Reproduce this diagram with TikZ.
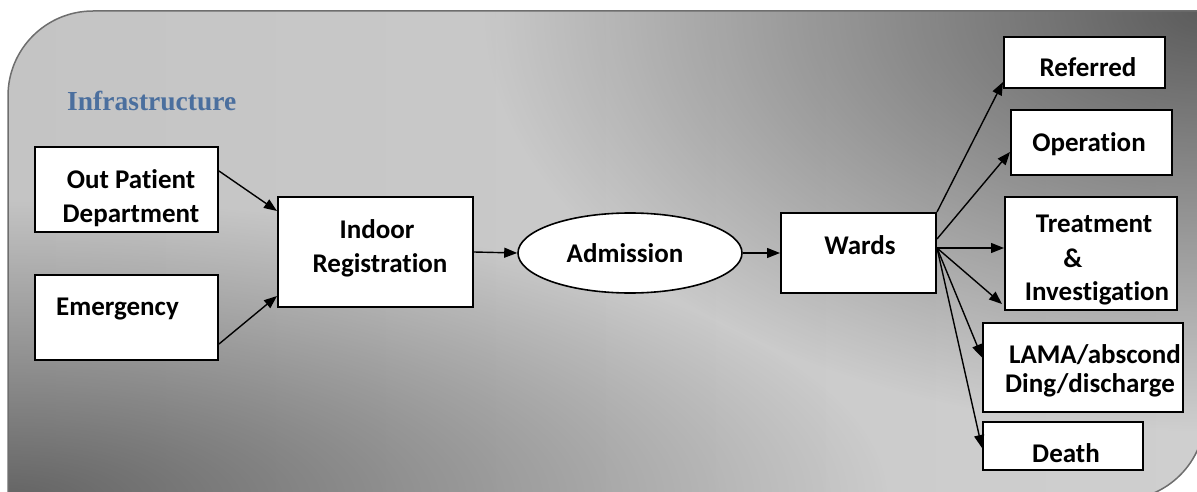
\documentclass[tikz,border=0pt]{standalone}
\usepackage{fontspec}
\setmainfont{Carlito}[Ligatures=NoCommon]
\newfontfamily\infofont{Liberation Serif}
\usetikzlibrary{arrows.meta,shapes.geometric,calc,fadings}
\definecolor{bglight}{HTML}{CFCFCF}
\definecolor{bgsoft}{HTML}{C4C4C4}
\definecolor{blobBL}{HTML}{646464}
\definecolor{blobTR}{HTML}{5C5C5C}
\definecolor{bgedge}{HTML}{6E6E6E}
\definecolor{infoblue}{HTML}{4B6F9E}
\tikzfading[name=radfade, inner color=transparent!0, outer color=transparent!100]
\begin{document}
\begin{tikzpicture}[x=1pt,y=-1pt,
  box/.style={draw=black, line width=2pt, fill=white, minimum width=#1, inner sep=0pt},
  oval/.style={ellipse, draw=black, line width=1.6pt, fill=white, inner sep=0pt},
  txt/.style={anchor=base, inner sep=0pt, font=\fontsize{27}{33}\selectfont\bfseries},
  conn/.style={line width=1.4pt, -{Triangle[length=13pt,width=10pt]}}
]
\useasboundingbox (0,0) rectangle (1197,492);
% background panel
\def\panelpath{(8,500) -- (8,96) .. controls (8,49) and (46,11) .. (93,11)
  -- (1205,11) -- (1205,415) .. controls (1205,462) and (1167,500) .. (1120,500) -- cycle}
\begin{scope}
  \clip \panelpath;
  \shade[left color=bgsoft, right color=bglight] (0,0) rectangle (1210,505);
  \fill[blobBL, path fading=radfade] (8,500) ellipse (880 and 300);
  \fill[blobTR, path fading=radfade] (1205,11) ellipse (720 and 420);
\end{scope}
\draw[bgedge, line width=1.5pt] \panelpath;

\node[anchor=base west, inner sep=0pt, text=infoblue, font=\infofont\fontsize{27.5}{31}\selectfont\bfseries] (infra) at (67,111) {Infrastructure};

% boxes
\node[box=183pt, minimum height=85pt] (opd) at (126.5,189.5) {};
\node[box=183pt, minimum height=85pt] (emer) at (126.5,317.5) {};
\node[box=195pt, minimum height=110pt] (indoor) at (375.5,252) {};
\node[oval, minimum width=224pt, minimum height=80pt] (adm) at (630,253) {};
\node[box=155pt, minimum height=80pt] (wards) at (858.5,253) {};
\node[box=161pt, minimum height=51pt] (ref) at (1084.5,62.5) {};
\node[box=161pt, minimum height=65pt] (op) at (1091.5,142.5) {};
\node[box=172pt, minimum height=113pt] (treat) at (1091,253.5) {};
\node[box=200pt, minimum height=89pt] (lama) at (1083,367.5) {};
\node[box=160pt, minimum height=48pt] (death) at (1063,446) {};

% texts
\node[txt] (opd1) at (131,188) {Out Patient};
\node[txt] (opd2) at (131,222) {Department};
\node[txt] (emert) at (117.5,315) {Emergency};
\node[txt] (ind1) at (377,238) {Indoor};
\node[txt] (ind2) at (380,272) {Registration};
\node[txt] (admt) at (625,262) {Admission};
\node[txt] (wardt) at (860,254) {Wards};
\node[txt] (reft) at (1088,77) {Referred};
\node[txt] (opt) at (1089,152) {Operation};
\node[txt] (tr1) at (1094,232) {Treatment};
\node[txt] (tr2) at (1073,267) {\&};
\node[txt] (tr3) at (1097,300) {Investigation};
\node[txt] (la1) at (1095,363) {LAMA/abscond};
\node[txt] (la2) at (1090,392) {Ding/discharge};
\node[txt] (deatht) at (1066,462) {Death};

% connectors
\coordinate (fan) at ([yshift=5pt]wards.east);
\draw[conn] ([yshift=-25pt]opd.north east) -- ([yshift=-15pt]indoor.north west);
\draw[conn] ([yshift=17pt]emer.south east) -- ([yshift=12pt]indoor.south west);
\draw[conn] (indoor.east) -- (adm.west);
\draw[conn] (adm.east) -- (wards.west);
\draw[conn] (wards.north east) -- ([yshift=7pt]ref.south west);
\draw[conn] ([yshift=-27pt]wards.north east) -- ([yshift=-9.5pt]op.west);
\draw[conn] (fan) -- (fan -| treat.west);
\draw[conn] (fan) -- ([xshift=-2pt,yshift=7pt]treat.south west);
\draw[conn] (fan) -- ([yshift=10pt]lama.west);
\draw[conn] (fan) -- ([yshift=-2pt]death.west);
\end{tikzpicture}
\end{document}
